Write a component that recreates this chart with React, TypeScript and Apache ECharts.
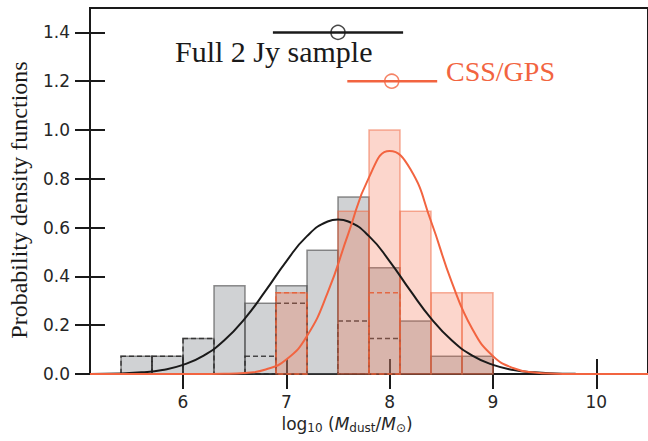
import React, { useEffect, useRef } from "react";
import * as echarts from "echarts";

// Histogram bins (left edges), width 0.3
const binStarts = [5.4, 5.7, 6.0, 6.3, 6.6, 6.9, 7.2, 7.5, 7.8, 8.1, 8.4, 8.7];
const BIN_W = 0.3;
// Full 2 Jy sample: total density and upper-limit part
const fullHeights = [0.0725, 0.0725, 0.145, 0.362, 0.29, 0.362, 0.507, 0.725, 0.435, 0.217, 0.0725, 0.0725];
const fullUpperLimits = [0.0725, 0.0725, 0.145, 0, 0.0725, 0.29, 0, 0.217, 0.145, 0, 0, 0];
// CSS/GPS sample
const cssBinStarts = [6.9, 7.2, 7.5, 7.8, 8.1, 8.4, 8.7];
const cssHeights = [0.333, 0, 0.667, 1.0, 0.667, 0.333, 0.333];
const cssUpperLimits = [0.333, 0, 0, 0.333, 0, 0, 0];

// Fitted PDFs
const fullPdfX = [5.1, 5.4, 5.6, 5.8, 6.0, 6.2, 6.4, 6.6, 6.8, 7.0, 7.2, 7.4, 7.5, 7.6, 7.8, 8.0, 8.2, 8.4, 8.6, 8.8, 9.0, 9.2, 9.4, 9.6, 9.8, 10.0, 10.5];
const fullPdfY = [0.0004, 0.0024, 0.0067, 0.0166, 0.0372, 0.0753, 0.138, 0.228, 0.3415, 0.462, 0.565, 0.625, 0.633, 0.625, 0.565, 0.462, 0.3415, 0.228, 0.138, 0.0753, 0.0372, 0.0166, 0.0067, 0.0024, 0.0008, 0.0002, 0];
const cssPdfX = [5.1, 6.0, 6.2, 6.4, 6.6, 6.8, 7.0, 7.2, 7.4, 7.6, 7.8, 8.0, 8.2, 8.4, 8.6, 8.8, 9.0, 9.2, 9.4, 9.6, 9.8, 10.0, 10.5];
const cssPdfY = [0, 0, 0.0002, 0.0009, 0.0045, 0.0182, 0.0593, 0.156, 0.333, 0.575, 0.806, 0.914, 0.84, 0.626, 0.378, 0.1847, 0.0732, 0.0235, 0.0061, 0.0013, 0.0002, 0, 0];

// Mean and spread markers
const fullMean = { center: 7.5, low: 6.87, high: 8.13, y: 1.4 };
const cssMean = { center: 8.02, low: 7.59, high: 8.46, y: 1.2 };

const xTicks = [6, 7, 8, 9, 10];
const yTicks = [0, 0.2, 0.4, 0.6, 0.8, 1.0, 1.2, 1.4];

const AX = "#1a1a1a";
const ORANGE = "#f26440";

function barData(starts: number[], heights: number[]) {
  return starts
    .map((s, i) => [s, s + BIN_W, heights[i]])
    .filter((d) => d[2] > 0);
}

function makeRender(style: any) {
  return (params: any, api: any) => {
    const x0 = api.value(0);
    const x1 = api.value(1);
    const h = api.value(2);
    const p0 = api.coord([x0, h]);
    const p1 = api.coord([x1, 0]);
    return {
      type: "rect",
      shape: { x: p0[0], y: p0[1], width: p1[0] - p0[0], height: p1[1] - p0[1] },
      style: { ...style },
    };
  };
}

export default function App() {
  const ref = useRef<HTMLDivElement>(null);
  useEffect(() => {
    if (!ref.current) return;
    const chart = echarts.init(ref.current, undefined, { renderer: "svg" });
    const tickStyle = { color: AX, width: 2 };
    const option: any = {
      animation: false,
      grid: {
        left: 90,
        width: 563,
        top: 8,
        bottom: 67,
        show: true,
        borderColor: AX,
        borderWidth: 2,
        backgroundColor: "transparent",
      },
      xAxis: [
        {
          type: "value",
          min: 5.1,
          max: 10.5,
          position: "bottom",
          axisLine: { show: true, onZero: false, lineStyle: { color: AX, width: 2 } },
          axisTick: { show: true, inside: false, length: 15, lineStyle: tickStyle, customValues: xTicks },
          axisLabel: { customValues: xTicks, fontSize: 17, color: "#262626", margin: 19, fontFamily: "DejaVu Sans" },
          splitLine: { show: false },
        },
        {
          type: "value",
          min: 5.1,
          max: 10.5,
          position: "bottom",
          axisLine: { show: false, onZero: false },
          axisTick: { show: true, inside: true, length: 15, lineStyle: tickStyle, customValues: xTicks },
          axisLabel: { show: false },
          splitLine: { show: false },
        },
      ],
      yAxis: [
        {
          type: "value",
          min: 0,
          max: 1.5,
          position: "left",
          axisLine: { show: true, onZero: false, lineStyle: { color: AX, width: 2 } },
          axisTick: { show: true, inside: false, length: 15, lineStyle: tickStyle, customValues: yTicks },
          axisLabel: {
            customValues: yTicks,
            fontSize: 17,
            color: "#262626",
            margin: 20,
            fontFamily: "DejaVu Sans",
            formatter: (v: number) => v.toFixed(1),
          },
          splitLine: { show: false },
        },
        {
          type: "value",
          min: 0,
          max: 1.5,
          position: "left",
          axisLine: { show: false, onZero: false },
          axisTick: { show: true, inside: true, length: 15, lineStyle: tickStyle, customValues: yTicks },
          axisLabel: { show: false },
          splitLine: { show: false },
        },
      ],
      series: [
        {
          type: "custom",
          name: "full",
          z: 1,
          encode: { x: [0, 1], y: 2 },
          data: barData(binStarts, fullHeights),
          renderItem: makeRender({ fill: "rgba(125,130,135,0.36)", stroke: "rgba(70,70,70,0.6)", lineWidth: 1.5 }),
        },
        {
          type: "custom",
          name: "fullUL",
          z: 2,
          encode: { x: [0, 1], y: 2 },
          data: barData(binStarts, fullUpperLimits),
          renderItem: makeRender({ fill: "none", stroke: "rgba(35,35,35,0.8)", lineWidth: 1.5, lineDash: [5, 3] }),
        },
        {
          type: "custom",
          name: "css",
          z: 3,
          encode: { x: [0, 1], y: 2 },
          data: barData(cssBinStarts, cssHeights),
          renderItem: makeRender({ fill: "rgba(245,105,65,0.27)", stroke: "rgba(240,100,60,0.5)", lineWidth: 1.5 }),
        },
        {
          type: "custom",
          name: "cssUL",
          z: 4,
          encode: { x: [0, 1], y: 2 },
          data: barData(cssBinStarts, cssUpperLimits),
          renderItem: makeRender({ fill: "none", stroke: "rgba(228,95,55,0.9)", lineWidth: 1.5, lineDash: [5, 3] }),
        },
        {
          type: "line",
          z: 5,
          smooth: true,
          showSymbol: false,
          symbol: "none",
          data: fullPdfX.map((x, i) => [x, fullPdfY[i]]),
          lineStyle: { color: AX, width: 2 },
        },
        {
          type: "line",
          z: 6,
          smooth: true,
          showSymbol: false,
          symbol: "none",
          data: cssPdfX.map((x, i) => [x, cssPdfY[i]]),
          lineStyle: { color: ORANGE, width: 2 },
        },
        {
          type: "line",
          z: 7,
          symbol: "none",
          data: [[fullMean.low, fullMean.y], [fullMean.high, fullMean.y]],
          lineStyle: { color: AX, width: 2.5 },
        },
        {
          type: "line",
          z: 7,
          symbol: "none",
          data: [[cssMean.low, cssMean.y], [cssMean.high, cssMean.y]],
          lineStyle: { color: ORANGE, width: 2.5 },
        },
        {
          type: "scatter",
          z: 8,
          symbol: "circle",
          symbolSize: 14,
          data: [[fullMean.center, fullMean.y]],
          itemStyle: { color: "rgba(0,0,0,0)", borderColor: AX, borderWidth: 1.5 },
        },
        {
          type: "scatter",
          z: 8,
          symbol: "circle",
          symbolSize: 14,
          data: [[cssMean.center, cssMean.y]],
          itemStyle: { color: "rgba(0,0,0,0)", borderColor: ORANGE, borderWidth: 1.5 },
        },
      ],
      graphic: [
        {
          type: "text",
          left: 175,
          top: 36,
          style: { text: "Full 2 Jy sample", fontSize: 30, fontFamily: "Liberation Serif", fill: "#1a1a1a" },
        },
        {
          type: "text",
          left: 446,
          top: 57,
          style: { text: "CSS/GPS", fontSize: 28, fontFamily: "Liberation Serif", fill: ORANGE },
        },
        {
          type: "text",
          x: 19,
          y: 200,
          rotation: Math.PI / 2,
          style: {
            text: "Probability density functions",
            fontSize: 24,
            fontFamily: "Liberation Serif",
            fill: "#1a1a1a",
            align: "center",
            verticalAlign: "middle",
          },
        },
        {
          type: "text",
          x: 347,
          y: 424,
          style: {
            text: "log{sub|10} ({it|M}{sub|dust}/{it|M}{sub|⊙})",
            fontSize: 17,
            fontFamily: "DejaVu Sans",
            fill: "#262626",
            align: "center",
            verticalAlign: "middle",
            rich: {
              sub: { fontSize: 12, fontFamily: "DejaVu Sans", fill: "#262626", padding: [8, 0, 0, 0] },
              it: { fontSize: 17, fontStyle: "italic", fontFamily: "DejaVu Sans", fill: "#262626" },
            },
          },
        },
      ],
    };
    chart.setOption(option);
    return () => chart.dispose();
  }, []);
  return <div ref={ref} style={{ width: 648, height: 441, position: "absolute", left: 0, top: 0 }} />;
}
